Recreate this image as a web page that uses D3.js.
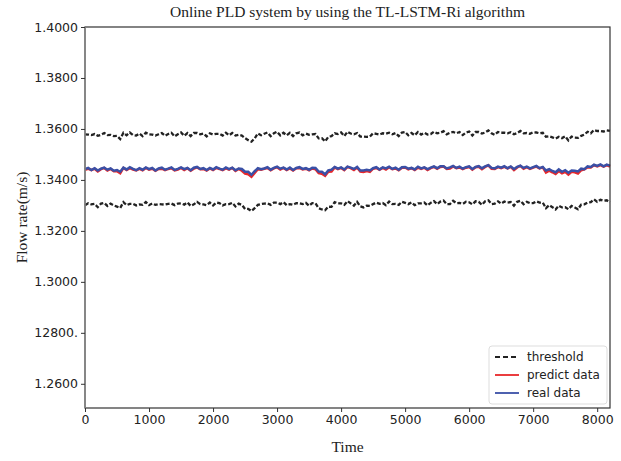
<!DOCTYPE html>
<html lang="en">
<head>
<meta charset="UTF-8">
<title>Online PLD system</title>
<script src="https://d3js.org/d3.v7.min.js"></script>
<style>
    body { margin: 0; background: #fff; }
    .tick text { font-family: "DejaVu Sans", sans-serif; font-size: 12.5px; fill: #222; }
    .tick line { stroke: #333; }
    .serif { font-family: "Liberation Serif", "Times New Roman", serif; fill: #222; }
</style>
</head>
<body>
<svg id="chart" width="621" height="461"></svg>
<script>
// time axis: one sample every 50 time units
const time = d3.range(0, 8201, 50);

const realData = [
    1.3442,1.3447,1.3439,1.3446,1.3437,1.3444,1.3448,1.3440,1.3445,1.3436,
    1.3439,1.3432,1.3448,1.3441,1.3450,1.3443,1.3438,1.3446,1.3440,1.3449,
    1.3442,1.3447,1.3437,1.3445,1.3448,1.3440,1.3444,1.3449,1.3439,1.3443,
    1.3449,1.3442,1.3447,1.3438,1.3448,1.3451,1.3443,1.3446,1.3439,1.3447,
    1.3441,1.3450,1.3444,1.3440,1.3449,1.3442,1.3448,1.3438,1.3445,1.3443,
    1.3432,1.3432,1.3420,1.3434,1.3446,1.3442,1.3445,1.3450,1.3440,1.3447,
    1.3452,1.3444,1.3448,1.3441,1.3449,1.3439,1.3447,1.3450,1.3443,1.3446,
    1.3440,1.3448,1.3447,1.3433,1.3432,1.3422,1.3437,1.3440,1.3451,1.3444,
    1.3449,1.3441,1.3452,1.3448,1.3443,1.3451,1.3437,1.3437,1.3440,1.3437,
    1.3446,1.3450,1.3441,1.3449,1.3445,1.3452,1.3443,1.3448,1.3440,1.3450,
    1.3451,1.3444,1.3447,1.3441,1.3452,1.3445,1.3449,1.3442,1.3448,1.3453,
    1.3446,1.3454,1.3454,1.3445,1.3449,1.3455,1.3447,1.3452,1.3444,1.3450,
    1.3453,1.3443,1.3451,1.3454,1.3446,1.3453,1.3458,1.3447,1.3445,1.3452,
    1.3448,1.3454,1.3446,1.3453,1.3443,1.3451,1.3456,1.3447,1.3452,1.3445,
    1.3450,1.3455,1.3446,1.3451,1.3437,1.3442,1.3435,1.3430,1.3441,1.3432,
    1.3438,1.3428,1.3437,1.3436,1.3433,1.3444,1.3442,1.3453,1.3451,1.3460,
    1.3455,1.3461,1.3453,1.3460,1.3456
];

const predictData = [
    1.3440,1.3444,1.3438,1.3444,1.3433,1.3442,1.3447,1.3437,1.3443,1.3434,
    1.3434,1.3426,1.3447,1.3439,1.3446,1.3441,1.3437,1.3443,1.3438,1.3447,
    1.3440,1.3444,1.3436,1.3443,1.3444,1.3438,1.3443,1.3446,1.3437,1.3441,
    1.3447,1.3439,1.3446,1.3436,1.3444,1.3449,1.3442,1.3443,1.3437,1.3445,
    1.3439,1.3447,1.3443,1.3438,1.3445,1.3440,1.3447,1.3435,1.3443,1.3436,
    1.3425,1.3422,1.3412,1.3427,1.3442,1.3440,1.3444,1.3447,1.3438,1.3445,
    1.3450,1.3441,1.3447,1.3439,1.3445,1.3437,1.3446,1.3447,1.3441,1.3444,
    1.3438,1.3445,1.3442,1.3427,1.3424,1.3416,1.3432,1.3433,1.3449,1.3442,
    1.3447,1.3438,1.3451,1.3446,1.3439,1.3449,1.3433,1.3431,1.3435,1.3432,
    1.3444,1.3447,1.3440,1.3447,1.3441,1.3450,1.3442,1.3445,1.3438,1.3448,
    1.3449,1.3441,1.3446,1.3439,1.3448,1.3443,1.3448,1.3439,1.3446,1.3451,
    1.3444,1.3451,1.3453,1.3443,1.3445,1.3453,1.3446,1.3449,1.3442,1.3448,
    1.3451,1.3440,1.3450,1.3452,1.3442,1.3451,1.3457,1.3444,1.3443,1.3450,
    1.3446,1.3451,1.3445,1.3451,1.3439,1.3449,1.3455,1.3444,1.3450,1.3443,
    1.3448,1.3452,1.3445,1.3449,1.3429,1.3436,1.3430,1.3423,1.3435,1.3426,
    1.3432,1.3421,1.3432,1.3430,1.3425,1.3438,1.3441,1.3450,1.3449,1.3458,
    1.3453,1.3458,1.3452,1.3458,1.3452
];

const upperThreshold = [
    1.3579,1.3578,1.3576,1.3580,1.3573,1.3577,1.3584,1.3576,1.3577,1.3572,
    1.3573,1.3560,1.3585,1.3575,1.3586,1.3576,1.3574,1.3582,1.3572,1.3585,
    1.3579,1.3578,1.3574,1.3579,1.3584,1.3573,1.3580,1.3585,1.3571,1.3579,
    1.3586,1.3573,1.3584,1.3572,1.3584,1.3584,1.3579,1.3582,1.3571,1.3583,
    1.3578,1.3581,1.3581,1.3574,1.3585,1.3575,1.3584,1.3574,1.3577,1.3574,
    1.3564,1.3556,1.3550,1.3563,1.3582,1.3575,1.3581,1.3586,1.3572,1.3583,
    1.3589,1.3575,1.3585,1.3575,1.3585,1.3572,1.3583,1.3586,1.3575,1.3582,
    1.3577,1.3579,1.3580,1.3563,1.3564,1.3551,1.3569,1.3572,1.3583,1.3580,
    1.3586,1.3572,1.3589,1.3582,1.3579,1.3584,1.3570,1.3570,1.3569,1.3570,
    1.3583,1.3581,1.3578,1.3583,1.3581,1.3585,1.3579,1.3584,1.3572,1.3586,
    1.3588,1.3575,1.3584,1.3575,1.3588,1.3578,1.3585,1.3578,1.3580,1.3589,
    1.3583,1.3585,1.3591,1.3579,1.3585,1.3588,1.3583,1.3588,1.3576,1.3586,
    1.3590,1.3574,1.3588,1.3588,1.3582,1.3586,1.3594,1.3583,1.3577,1.3588,
    1.3585,1.3585,1.3583,1.3587,1.3579,1.3584,1.3592,1.3583,1.3584,1.3581,
    1.3587,1.3586,1.3583,1.3585,1.3569,1.3571,1.3567,1.3562,1.3569,1.3564,
    1.3571,1.3555,1.3570,1.3566,1.3565,1.3573,1.3578,1.3589,1.3583,1.3596,
    1.3592,1.3592,1.3590,1.3594,1.3592
];

const lowerThreshold = [
    1.3301,1.3308,1.3304,1.3306,1.3293,1.3307,1.3310,1.3298,1.3307,1.3300,
    1.3295,1.3290,1.3313,1.3301,1.3306,1.3306,1.3300,1.3304,1.3302,1.3313,
    1.3301,1.3308,1.3302,1.3305,1.3304,1.3303,1.3306,1.3307,1.3301,1.3307,
    1.3308,1.3303,1.3312,1.3298,1.3304,1.3314,1.3305,1.3304,1.3301,1.3311,
    1.3300,1.3311,1.3309,1.3300,1.3305,1.3305,1.3310,1.3296,1.3307,1.3302,
    1.3286,1.3286,1.3278,1.3289,1.3302,1.3305,1.3307,1.3308,1.3302,1.3311,
    1.3311,1.3305,1.3313,1.3301,1.3305,1.3302,1.3309,1.3308,1.3305,1.3310,
    1.3299,1.3309,1.3308,1.3289,1.3284,1.3281,1.3295,1.3294,1.3313,1.3308,
    1.3308,1.3302,1.3317,1.3308,1.3299,1.3314,1.3296,1.3292,1.3299,1.3298,
    1.3305,1.3311,1.3306,1.3309,1.3301,1.3315,1.3305,1.3306,1.3302,1.3314,
    1.3310,1.3305,1.3312,1.3301,1.3308,1.3308,1.3311,1.3300,1.3310,1.3317,
    1.3305,1.3315,1.3319,1.3305,1.3305,1.3318,1.3309,1.3310,1.3306,1.3314,
    1.3312,1.3304,1.3316,1.3314,1.3302,1.3316,1.3320,1.3305,1.3307,1.3316,
    1.3307,1.3315,1.3311,1.3313,1.3299,1.3314,1.3318,1.3305,1.3314,1.3309,
    1.3309,1.3316,1.3311,1.3311,1.3289,1.3301,1.3293,1.3284,1.3299,1.3292,
    1.3293,1.3285,1.3298,1.3292,1.3285,1.3303,1.3304,1.3311,1.3313,1.3324,
    1.3314,1.3322,1.3318,1.3320,1.3312
];

const xTicks = [0, 1000, 2000, 3000, 4000, 5000, 6000, 7000, 8000];
const yTicks = [1.26, 1.28, 1.30, 1.32, 1.34, 1.36, 1.38, 1.40];
const yTickLabels = ["1.2600", "12800.", "1.3000", "1.3200", "1.3400", "1.3600", "1.3800", "1.4000"];

const legendItems = [
    {name: "threshold", color: "#222", dash: "5,3"},
    {name: "predict data", color: "#e8272a", dash: null},
    {name: "real data", color: "#3a50a6", dash: null}
];

const margin = {top: 27, right: 11, bottom: 53, left: 85};
const width = 621 - margin.left - margin.right;
const height = 461 - margin.top - margin.bottom;

const svg = d3.select("#chart");
const g = svg.append("g").attr("transform", `translate(${margin.left},${margin.top})`);

const x = d3.scaleLinear().domain([0, 8200]).range([0, width]);
const y = d3.scaleLinear().domain([1.2505, 1.4]).range([height, 0]);

const line = d3.line()
    .x((d, i) => x(time[i]))
    .y(d => y(d));

// thresholds
[upperThreshold, lowerThreshold].forEach(s => {
    g.append("path")
        .datum(s)
        .attr("fill", "none")
        .attr("stroke", "#222")
        .attr("stroke-width", 2.3)
        .attr("stroke-dasharray", "4,2")
        .attr("d", line);
});

g.append("path")
    .datum(predictData)
    .attr("fill", "none")
    .attr("stroke", "#e8272a")
    .attr("stroke-width", 2.5)
    .attr("d", line);

g.append("path")
    .datum(realData)
    .attr("fill", "none")
    .attr("stroke", "#3a50a6")
    .attr("stroke-width", 2.5)
    .attr("d", line);

// frame
g.append("rect")
    .attr("width", width).attr("height", height)
    .attr("fill", "none").attr("stroke", "#333").attr("stroke-width", 1.2);
g.append("line")
    .attr("x1", 0).attr("x2", 0).attr("y1", 0).attr("y2", height)
    .attr("stroke", "#888").attr("stroke-width", 1.6);

// axes
const xAxis = g.append("g")
    .attr("transform", `translate(0,${height})`)
    .call(d3.axisBottom(x).tickValues(xTicks).tickSize(4).tickPadding(3).tickFormat(d3.format("d")));
xAxis.select(".domain").remove();

const yAxis = g.append("g")
    .call(d3.axisLeft(y).tickValues(yTicks).tickSize(4).tickPadding(3)
        .tickFormat((d, i) => yTickLabels[i]));
yAxis.select(".domain").remove();

// title and axis labels
svg.append("text").attr("class", "serif")
    .attr("x", margin.left + width / 2).attr("y", 17)
    .attr("text-anchor", "middle").attr("font-size", 15.5)
    .text("Online PLD system by using the TL-LSTM-Ri algorithm");

svg.append("text").attr("class", "serif")
    .attr("x", margin.left + width / 2).attr("y", 452)
    .attr("text-anchor", "middle").attr("font-size", 15.5)
    .text("Time");

svg.append("text").attr("class", "serif")
    .attr("transform", `translate(27,${margin.top + height / 2}) rotate(-90)`)
    .attr("text-anchor", "middle").attr("font-size", 15.5)
    .text("Flow rate(m/s)");

// legend
const legend = g.append("g").attr("transform", `translate(${width - 121},${height - 62})`);
legend.append("rect")
    .attr("width", 118).attr("height", 58).attr("rx", 3)
    .attr("fill", "#fff").attr("stroke", "#ddd");
legendItems.forEach((d, i) => {
    const row = legend.append("g").attr("transform", `translate(6,${11 + i * 18})`);
    row.append("line")
        .attr("x1", 0).attr("x2", 24)
        .attr("stroke", d.color).attr("stroke-width", 1.8)
        .attr("stroke-dasharray", d.dash);
    row.append("text")
        .attr("x", 32).attr("dy", "0.35em")
        .attr("font-family", "DejaVu Sans, sans-serif").attr("font-size", 12)
        .attr("fill", "#222")
        .text(d.name);
});
</script>
</body>
</html>
